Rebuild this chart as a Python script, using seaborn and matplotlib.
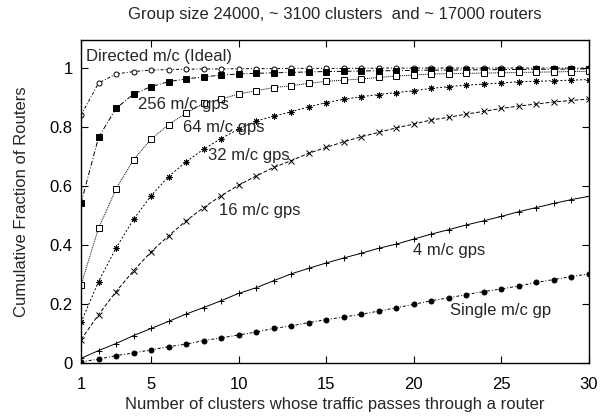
import matplotlib
matplotlib.use("Agg")
import matplotlib.pyplot as plt
import numpy as np
import pandas as pd
import seaborn as sns

# cluster counts on the x axis
clusters = list(range(1, 31))

# cumulative fraction of routers
directed = [0.84, 0.949, 0.98, 0.988, 0.993, 0.995, 0.996, 0.997, 0.997, 0.998,
            0.998, 0.998, 0.999, 0.999, 0.999, 0.999, 0.999, 1.0, 1.0, 1.0,
            1.0, 1.0, 1.0, 1.0, 1.0, 1.0, 1.0, 1.0, 1.0, 1.0]
gps256 = [0.542, 0.765, 0.863, 0.912, 0.937, 0.954, 0.963, 0.970, 0.976, 0.980,
          0.982, 0.984, 0.985, 0.987, 0.988, 0.989, 0.990, 0.991, 0.991, 0.992,
          0.993, 0.993, 0.994, 0.994, 0.995, 0.995, 0.996, 0.996, 0.997, 0.997]
gps64 = [0.265, 0.457, 0.59, 0.689, 0.759, 0.808, 0.847, 0.88, 0.895, 0.912,
         0.923, 0.934, 0.94, 0.948, 0.955, 0.959, 0.963, 0.968, 0.973, 0.976,
         0.98, 0.981, 0.982, 0.983, 0.984, 0.985, 0.986, 0.987, 0.988, 0.989]
gps32 = [0.138, 0.276, 0.39, 0.487, 0.567, 0.632, 0.682, 0.725, 0.761, 0.793,
         0.821, 0.836, 0.852, 0.868, 0.883, 0.894, 0.903, 0.91, 0.917, 0.923,
         0.931, 0.937, 0.942, 0.946, 0.949, 0.954, 0.955, 0.957, 0.959, 0.961]
gps16 = [0.079, 0.164, 0.242, 0.313, 0.377, 0.431, 0.482, 0.527, 0.567, 0.603,
         0.634, 0.663, 0.686, 0.711, 0.731, 0.75, 0.767, 0.782, 0.797, 0.81,
         0.824, 0.833, 0.844, 0.853, 0.863, 0.871, 0.878, 0.885, 0.89, 0.895]
gps4 = [0.016, 0.042, 0.066, 0.093, 0.117, 0.141, 0.166, 0.188, 0.211, 0.236,
        0.255, 0.279, 0.302, 0.321, 0.339, 0.356, 0.372, 0.389, 0.403, 0.42,
        0.437, 0.452, 0.468, 0.482, 0.497, 0.513, 0.527, 0.541, 0.554, 0.565]
single = [0.004, 0.013, 0.025, 0.034, 0.045, 0.055, 0.064, 0.076, 0.085, 0.095,
          0.105, 0.117, 0.126, 0.137, 0.147, 0.156, 0.165, 0.176, 0.187, 0.199,
          0.211, 0.221, 0.232, 0.242, 0.251, 0.261, 0.273, 0.283, 0.293, 0.302]

labels = ["Directed m/c (Ideal)", "256 m/c gps", "64 m/c gps", "32 m/c gps",
          "16 m/c gps", "4 m/c gps", "Single m/c gp"]
label_pos = [(1.3, 1.04), (4.25, 0.876), (6.8, 0.797), (8.25, 0.703),
             (8.9, 0.516), (19.95, 0.381), (22.05, 0.177)]

sns.set_style("ticks")
plt.rcParams['font.family'] = ['Liberation Sans', 'DejaVu Sans']

fig = plt.figure(figsize=(6.02, 4.17), dpi=100)
ax = fig.add_axes([0.1346, 0.1295, 0.8434, 0.7745])

# (values, marker, marker size, filled, line style)
series = [
    (directed, 'o', 3.6, False, (0, (3, 2, 1, 2))),
    (gps256, 's', 4.3, True, (0, (5, 2, 1, 2))),
    (gps64, 's', 4.6, False, (0, (1, 1))),
    (gps32, (8, 2, 0), 4.2, False, (0, (2, 2))),
    (gps16, 'x', 3.8, False, (0, (4, 2))),
    (gps4, '+', 4.8, False, '-'),
    (single, 'o', 3.6, True, (0, (3, 2, 1, 2))),
]

for vals, mk, ms, filled, ls in series:
    df = pd.DataFrame({'x': clusters, 'y': vals})
    sns.lineplot(data=df, x='x', y='y', ax=ax, color='black', linewidth=0.7,
                 linestyle=ls, marker=mk, markersize=ms,
                 markerfacecolor='black' if filled else 'white',
                 markeredgecolor='black', markeredgewidth=0.7)

# small dot in the middle of the open squares (gnuplot boxed dot)
sns.scatterplot(x=clusters, y=gps64, ax=ax, color='black', s=1.2, linewidth=0)

for txt, (tx, ty) in zip(labels, label_pos):
    ax.text(tx, ty, txt, fontsize=12, ha='left', va='center')

ax.set_xlim(1, 30)
ax.set_ylim(0, 1.095)
ax.set_xticks([1, 5, 10, 15, 20, 25, 30])
ax.set_yticks([0, 0.2, 0.4, 0.6, 0.8, 1])
ax.set_yticklabels(['0', '0.2', '0.4', '0.6', '0.8', '1'])
ax.tick_params(direction='in', length=5, width=0.8, top=True, right=True,
               labelsize=12, colors='black', pad=6)
ax.tick_params(axis='x', pad=10)
for sp in ax.spines.values():
    sp.set_visible(True)
    sp.set_linewidth(1.0)
    sp.set_color('black')

ax.set_xlabel('Number of clusters whose traffic passes through a router',
              fontsize=12, labelpad=4)
ax.set_ylabel('Cumulative Fraction of Routers', fontsize=12, labelpad=15)
fig.text(0.5565, 1 - 15 / 417, 'Group size 24000, ~ 3100 clusters  and ~ 17000 routers',
         fontsize=12, ha='center', va='center')

fig.savefig('out.png', dpi=100)
